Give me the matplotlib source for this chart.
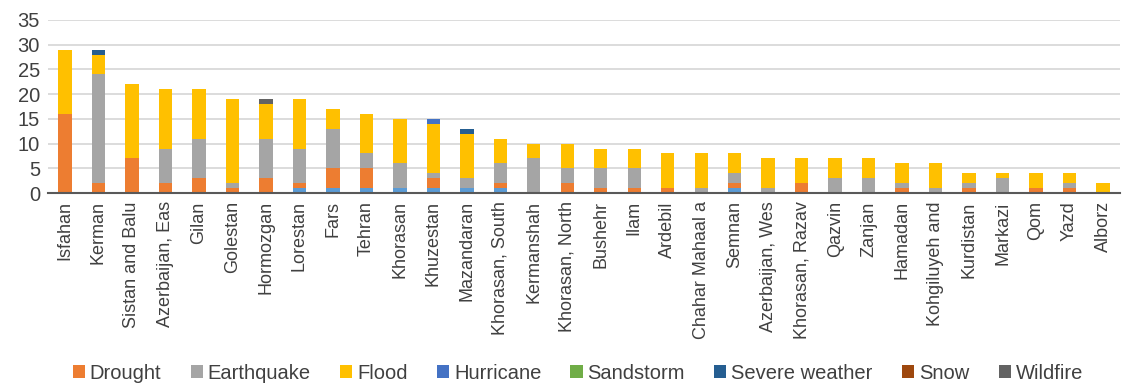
import numpy as np
import matplotlib
matplotlib.use('Agg')
import matplotlib.pyplot as plt

plt.rcParams['font.family'] = ['Liberation Sans', 'DejaVu Sans']

provinces = ['Isfahan', 'Kerman', 'Sistan and Balu', 'Azerbaijan, Eas', 'Gilan',
             'Golestan', 'Hormozgan', 'Lorestan', 'Fars', 'Tehran', 'Khorasan',
             'Khuzestan', 'Mazandaran', 'Khorasan, South', 'Kermanshah',
             'Khorasan, North', 'Bushehr', 'Ilam', 'Ardebil', 'Chahar Mahaal a',
             'Semnan', 'Azerbaijan, Wes', 'Khorasan, Razav', 'Qazvin', 'Zanjan',
             'Hamadan', 'Kohgiluyeh and', 'Kurdistan', 'Markazi', 'Qom', 'Yazd',
             'Alborz']

# first series has no legend entry
avalanche  = [0, 0, 0, 0, 0, 0, 0, 1, 1, 1, 1, 1, 1, 1, 0, 0, 0, 0, 0, 0, 1, 0, 0, 0, 0, 0, 0, 0, 0, 0, 0, 0]
drought    = [16, 2, 7, 2, 3, 1, 3, 1, 4, 4, 0, 2, 0, 1, 0, 2, 1, 1, 1, 0, 1, 0, 2, 0, 0, 1, 0, 1, 0, 1, 1, 0]
earthquake = [0, 22, 0, 7, 8, 1, 8, 7, 8, 3, 5, 1, 2, 4, 7, 3, 4, 4, 0, 1, 2, 1, 0, 3, 3, 1, 1, 1, 3, 0, 1, 0]
flood      = [13, 4, 15, 12, 10, 17, 7, 10, 4, 8, 9, 10, 9, 5, 3, 5, 4, 4, 7, 7, 4, 6, 5, 4, 4, 4, 5, 2, 1, 3, 2, 2]
hurricane  = [0, 0, 0, 0, 0, 0, 0, 0, 0, 0, 0, 1, 0, 0, 0, 0, 0, 0, 0, 0, 0, 0, 0, 0, 0, 0, 0, 0, 0, 0, 0, 0]
sandstorm  = [0] * 32
severe     = [0, 1, 0, 0, 0, 0, 0, 0, 0, 0, 0, 0, 1, 0, 0, 0, 0, 0, 0, 0, 0, 0, 0, 0, 0, 0, 0, 0, 0, 0, 0, 0]
snow       = [0] * 32
wildfire   = [0, 0, 0, 0, 0, 0, 1, 0, 0, 0, 0, 0, 0, 0, 0, 0, 0, 0, 0, 0, 0, 0, 0, 0, 0, 0, 0, 0, 0, 0, 0, 0]

series = [('_nolegend_',     avalanche,  '#5B9BD5'),
          ('Drought',        drought,    '#ED7D31'),
          ('Earthquake',     earthquake, '#A5A5A5'),
          ('Flood',          flood,      '#FFC000'),
          ('Hurricane',      hurricane,  '#4472C4'),
          ('Sandstorm',      sandstorm,  '#70AD47'),
          ('Severe weather', severe,     '#255E91'),
          ('Snow',           snow,       '#9E480E'),
          ('Wildfire',       wildfire,   '#636363')]

fig = plt.figure(figsize=(11.22, 3.83), dpi=100)
ax = fig.add_axes([0.043, 0.496, 0.955, 0.452])

x = np.arange(len(provinces))
bottom = np.zeros(len(provinces))
for name, vals, col in series:
    vals = np.array(vals, dtype=float)
    ax.bar(x, vals, width=0.4, bottom=bottom, color=col, label=name, zorder=3)
    bottom += vals

ax.set_xlim(-0.5, len(provinces) - 0.5)
ax.set_ylim(0, 35)
ax.set_yticks(range(0, 36, 5))
ax.yaxis.grid(True, color='#D9D9D9', lw=1.3, zorder=0)
ax.set_axisbelow(True)
for s in ['top', 'right', 'left']:
    ax.spines[s].set_visible(False)
ax.spines['bottom'].set_color('#595959')
ax.spines['bottom'].set_linewidth(1.5)
ax.spines['bottom'].set_zorder(4)
ax.tick_params(axis='y', length=0, labelsize=14.5, colors='#404040', pad=6)
ax.tick_params(axis='x', length=0, colors='#404040', pad=6)
ax.set_xticks(x)
ax.set_xticklabels(provinces, rotation=90, fontsize=13)

handles, labels = ax.get_legend_handles_labels()
fig.legend(handles, labels, loc='center', bbox_to_anchor=(0.515, 0.026), ncol=8,
           frameon=False, fontsize=14.5, handlelength=0.6, handleheight=0.6,
           handletextpad=0.25, columnspacing=1.45, labelcolor='#404040')

plt.savefig('out.png', dpi=100)
